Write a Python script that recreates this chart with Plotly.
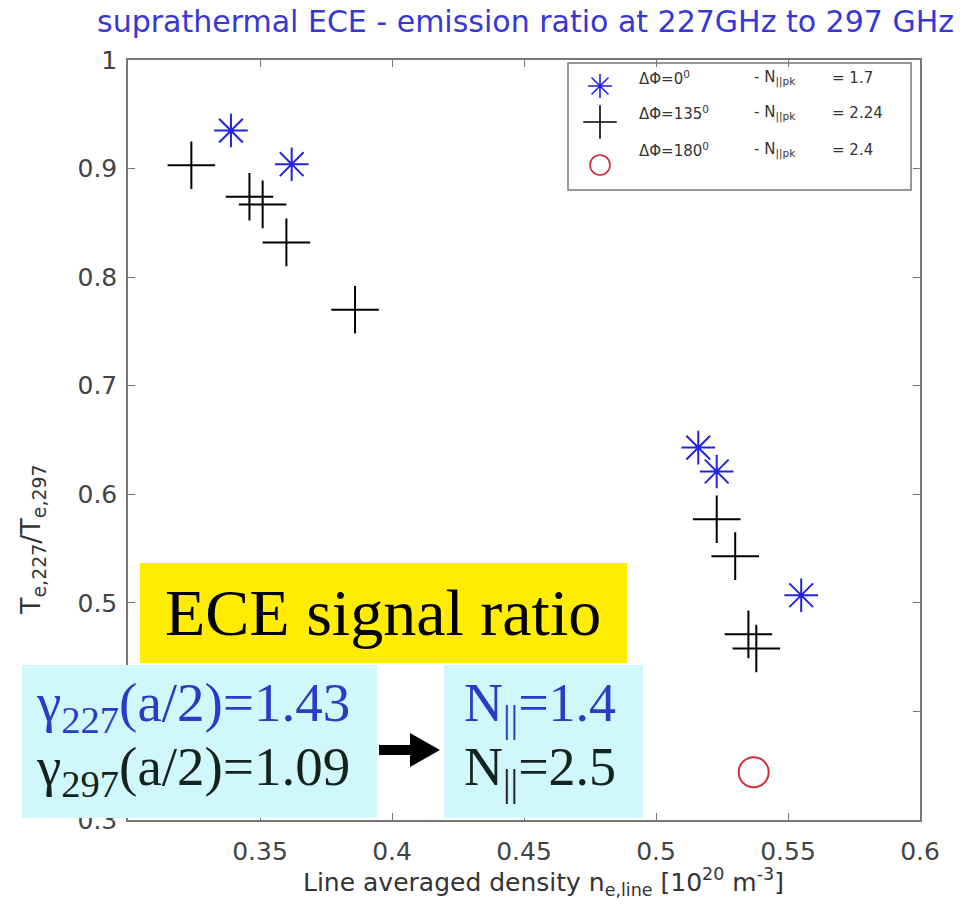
import plotly.graph_objects as go

# ---- data ----
star_x = [0.339, 0.362, 0.516, 0.523, 0.555]
star_y = [0.935, 0.904, 0.643, 0.621, 0.507]
cross_x = [0.324, 0.346, 0.351, 0.360, 0.386, 0.523, 0.530, 0.535, 0.538]
cross_y = [0.903, 0.874, 0.867, 0.832, 0.770, 0.577, 0.543, 0.471, 0.458]
circ_x = [0.537]
circ_y = [0.344]

x_ticks = [0.35, 0.4, 0.45, 0.5, 0.55, 0.6]
x_tick_text = ["0.35", "0.4", "0.45", "0.5", "0.55", "0.6"]
y_ticks = [0.3, 0.4, 0.5, 0.6, 0.7, 0.8, 0.9, 1.0]
y_tick_text = ["0.3", "0.4", "0.5", "0.6", "0.7", "0.8", "0.9", "1"]

legend_labels = [
    ("ΔΦ=0<sup>0</sup>", "- N<sub>||pk</sub>", "= 1.7"),
    ("ΔΦ=135<sup>0</sup>", "- N<sub>||pk</sub>", "= 2.24"),
    ("ΔΦ=180<sup>0</sup>", "- N<sub>||pk</sub>", "= 2.4"),
]

title_text = "suprathermal ECE - emission ratio at 227GHz to 297 GHz"
xlabel = "Line averaged density n<sub>e,line</sub> [10<sup>20</sup> m<sup>-3</sup>]"
ylabel = "T<sub>e,227</sub>/T<sub>e,297</sub>"

W, H = 976, 913
SANS = "DejaVu Sans"
SERIF = "Liberation Serif"
BLUE = "rgb(35,35,225)"
RED = "rgb(210,45,55)"
YELLOW = "rgb(255,236,0)"
CYAN = "rgb(208,247,250)"


def px(x):
    return x / W


def py(y):
    return 1 - y / H


fig = go.Figure()

fig.add_trace(go.Scatter(x=star_x, y=star_y, mode="markers", showlegend=False,
                         marker=dict(symbol="asterisk-open", size=28, color=BLUE,
                                     line=dict(color=BLUE, width=2))))
fig.add_trace(go.Scatter(x=cross_x, y=cross_y, mode="markers", showlegend=False,
                         marker=dict(symbol="cross-thin-open", size=34, color="black",
                                     line=dict(color="black", width=2))))
fig.add_trace(go.Scatter(x=circ_x, y=circ_y, mode="markers", showlegend=False,
                         marker=dict(symbol="circle-open", size=30, color=RED,
                                     line=dict(color=RED, width=2))))

# legend glyphs on a full-page pixel subplot
leg_sym = [("asterisk-open", BLUE, 20), ("cross-thin-open", "black", 24), ("circle-open", RED, 20)]
leg_y = [86, 122, 165]
for (sym, col, sz), yy in zip(leg_sym, leg_y):
    fig.add_trace(go.Scatter(x=[600], y=[yy], xaxis="x2", yaxis="y2", mode="markers",
                             showlegend=False, hoverinfo="skip",
                             marker=dict(symbol=sym, size=sz, color=col,
                                         line=dict(color=col, width=1.6))))

axis_common = dict(showgrid=False, zeroline=False, showline=True, linecolor="#777",
                   linewidth=1.5, mirror="ticks", ticks="inside", ticklen=7,
                   tickcolor="#777", automargin=False,
                   tickfont=dict(family=SANS, size=25, color="#444"))

fig.update_layout(
    width=W, height=H, margin=dict(l=0, r=0, t=0, b=0, autoexpand=False),
    paper_bgcolor="white", plot_bgcolor="rgba(0,0,0,0)",
    xaxis=dict(domain=[px(128), px(920)], range=[0.3, 0.6], tickvals=x_ticks,
               ticktext=x_tick_text, ticklabelstandoff=8, **axis_common),
    yaxis=dict(domain=[py(820), py(60)], range=[0.3, 1.0], tickvals=y_ticks,
               ticktext=y_tick_text, ticklabelstandoff=4, **axis_common),
    xaxis2=dict(domain=[0, 1], range=[0, W], anchor="y2", visible=False, automargin=False),
    yaxis2=dict(domain=[0, 1], range=[H, 0], anchor="x2", visible=False, automargin=False),
)

shapes = []
# legend box
shapes.append(dict(type="rect", xref="paper", yref="paper", x0=px(568), x1=px(911),
                   y0=py(190), y1=py(63), line=dict(color="#777", width=1.5),
                   fillcolor="rgba(0,0,0,0)", layer="above"))
# yellow box
shapes.append(dict(type="rect", xref="paper", yref="paper", x0=px(140), x1=px(627),
                   y0=py(663), y1=py(563), line=dict(width=0), fillcolor=YELLOW, layer="above"))
# cyan boxes
shapes.append(dict(type="rect", xref="paper", yref="paper", x0=px(22), x1=px(377),
                   y0=py(818), y1=py(665), line=dict(width=0), fillcolor=CYAN, layer="above"))
shapes.append(dict(type="rect", xref="paper", yref="paper", x0=px(444), x1=px(643),
                   y0=py(818), y1=py(665), line=dict(width=0), fillcolor=CYAN, layer="above"))
# arrow
pts = [(379, 745), (410, 745), (410, 733), (440, 750), (410, 767), (410, 755), (379, 755)]
path = "M " + " L ".join(f"{px(a):.5f},{py(b):.5f}" for a, b in pts) + " Z"
shapes.append(dict(type="path", xref="paper", yref="paper", path=path,
                   fillcolor="black", line=dict(width=0), layer="above"))
fig.update_layout(shapes=shapes)

ann = []
ann.append(dict(text=title_text, x=px(525), y=py(22), xref="paper", yref="paper",
                showarrow=False, font=dict(family=SANS, size=30, color="rgb(55,55,215)"),
                xanchor="center", yanchor="middle"))
ann.append(dict(text=xlabel, x=px(543), y=py(882), xref="paper", yref="paper",
                showarrow=False, font=dict(family=SANS, size=25, color="#333"),
                xanchor="center", yanchor="middle"))
ann.append(dict(text=ylabel, x=px(32), y=py(540), xref="paper", yref="paper",
                showarrow=False, textangle=-90, font=dict(family=SANS, size=27, color="#333"),
                xanchor="center", yanchor="middle"))
for (a, b, c), yy in zip(legend_labels, [78, 113, 150]):
    for t, xx in zip((a, b, c), (637, 752, 830)):
        ann.append(dict(text=t, x=px(xx), y=py(yy), xref="paper", yref="paper",
                        showarrow=False, xanchor="left", yanchor="middle",
                        font=dict(family=SANS, size=15, color="#333")))
ann.append(dict(text="ECE signal ratio", x=px(383), y=py(612), xref="paper", yref="paper",
                showarrow=False, xanchor="center", yanchor="middle",
                font=dict(family=SERIF, size=66, color="black")))
ann.append(dict(text="γ<sub>227</sub>(a/2)=1.43", x=px(34), y=py(706), xref="paper",
                yref="paper", showarrow=False, xanchor="left", yanchor="middle",
                font=dict(family=SERIF, size=55, color="rgb(40,60,200)")))
ann.append(dict(text="γ<sub>297</sub>(a/2)=1.09", x=px(34), y=py(770), xref="paper",
                yref="paper", showarrow=False, xanchor="left", yanchor="middle",
                font=dict(family=SERIF, size=55, color="rgb(20,35,30)")))
ann.append(dict(text="N<sub>||</sub>=1.4", x=px(462), y=py(706), xref="paper",
                yref="paper", showarrow=False, xanchor="left", yanchor="middle",
                font=dict(family=SERIF, size=54, color="rgb(40,60,200)")))
ann.append(dict(text="N<sub>||</sub>=2.5", x=px(462), y=py(770), xref="paper",
                yref="paper", showarrow=False, xanchor="left", yanchor="middle",
                font=dict(family=SERIF, size=54, color="rgb(20,35,30)")))
fig.update_layout(annotations=ann)

fig.write_html("out.html")
